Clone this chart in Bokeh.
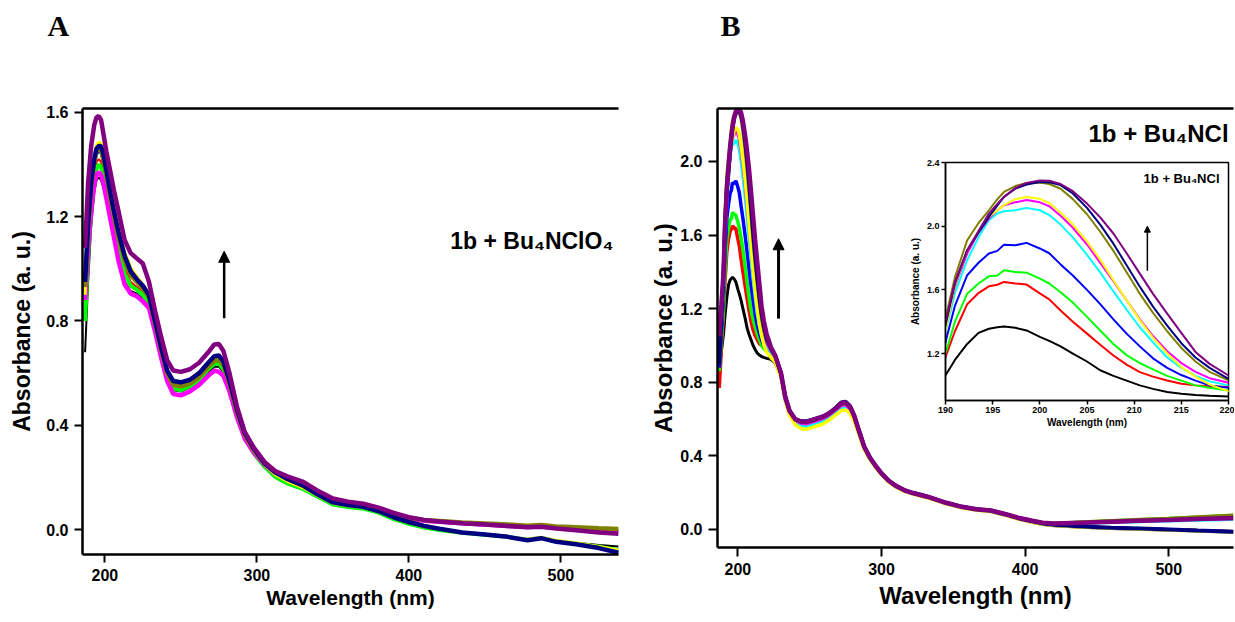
from bokeh.plotting import figure
from bokeh.layouts import row
from bokeh.models import (Range1d, FixedTicker, NumeralTickFormatter, Arrow,
                          NormalHead, Label, LinearAxis)
from bokeh.embed import file_html
from bokeh.resources import INLINE

FONT = "Liberation Sans"

series_names = ["black", "red", "green", "blue", "cyan", "magenta",
                "yellow", "olive", "navy", "purple"]
series_colors = ["#000000", "#FF0000", "#00FF00", "#0000FF", "#00FFFF",
                 "#FF00FF", "#FFFF00", "#808000", "#000080", "#800080"]

# ---------------- Panel A : 1b + Bu4NClO4 ----------------
wl_a = [187, 189, 191, 193, 194.5, 196, 197.5, 199, 201, 203,
        206, 209, 213, 217, 221, 225, 229, 233, 237, 241,
        245, 250, 256, 262, 268, 272, 275, 278, 282, 287,
        292, 298, 305, 312, 320, 330, 340, 350, 360, 370,
        380, 390, 400, 410, 420, 435, 450, 465, 478, 487,
        497, 510, 525, 538]

a_black = [0.68, 0.95, 1.16, 1.29, 1.34, 1.35, 1.34, 1.31, 1.26, 1.2,
           1.11, 1.03, 0.95, 0.915, 0.905, 0.885, 0.855, 0.77, 0.67, 0.58,
           0.535, 0.53, 0.545, 0.57, 0.605, 0.625, 0.625, 0.605, 0.54, 0.435,
           0.35, 0.29, 0.24, 0.2, 0.175, 0.155, 0.125, 0.095, 0.085, 0.08,
           0.065, 0.04, 0.022, 0.008, -0.002, -0.012, -0.02, -0.028, -0.037, -0.03,
           -0.042, -0.05, -0.058, -0.064]
a_red = [0.8, 1.1, 1.27, 1.37, 1.41, 1.42, 1.41, 1.38, 1.32, 1.26,
         1.17, 1.09, 1.0, 0.95, 0.93, 0.91, 0.875, 0.785, 0.685, 0.6,
         0.555, 0.55, 0.562, 0.588, 0.63, 0.655, 0.66, 0.64, 0.565, 0.45,
         0.36, 0.3, 0.25, 0.215, 0.195, 0.175, 0.14, 0.112, 0.102, 0.094,
         0.08, 0.06, 0.044, 0.035, 0.031, 0.026, 0.021, 0.016, 0.012, 0.014,
         0.008, 0.004, 0.0, -0.002]
a_green = [0.8, 1.05, 1.22, 1.33, 1.38, 1.4, 1.39, 1.36, 1.3, 1.24,
           1.15, 1.07, 0.98, 0.935, 0.92, 0.9, 0.865, 0.775, 0.675, 0.585,
           0.54, 0.535, 0.55, 0.575, 0.615, 0.635, 0.637, 0.615, 0.55, 0.44,
           0.352, 0.292, 0.242, 0.203, 0.178, 0.157, 0.127, 0.097, 0.087, 0.081,
           0.066, 0.041, 0.023, 0.009, -0.001, -0.011, -0.019, -0.027, -0.038, -0.031,
           -0.044, -0.053, -0.065, -0.078]
a_blue = [0.9, 1.14, 1.3, 1.4, 1.44, 1.45, 1.445, 1.41, 1.35, 1.29,
          1.2, 1.12, 1.03, 0.975, 0.95, 0.925, 0.89, 0.795, 0.695, 0.605,
          0.565, 0.56, 0.57, 0.595, 0.635, 0.66, 0.662, 0.64, 0.565, 0.45,
          0.36, 0.3, 0.25, 0.212, 0.187, 0.163, 0.132, 0.102, 0.093, 0.086,
          0.07, 0.046, 0.028, 0.013, 0.003, -0.009, -0.017, -0.026, -0.039, -0.032,
          -0.045, -0.054, -0.068, -0.084]
a_cyan = [0.92, 1.16, 1.33, 1.43, 1.47, 1.48, 1.475, 1.445, 1.385, 1.32,
          1.23, 1.15, 1.06, 1.0, 0.965, 0.935, 0.895, 0.8, 0.7, 0.61,
          0.57, 0.565, 0.575, 0.6, 0.638, 0.662, 0.664, 0.642, 0.566, 0.452,
          0.362, 0.302, 0.252, 0.213, 0.188, 0.164, 0.133, 0.103, 0.094, 0.087,
          0.071, 0.047, 0.029, 0.014, 0.004, -0.009, -0.017, -0.026, -0.039, -0.031,
          -0.045, -0.055, -0.069, -0.085]
a_magenta = [0.88, 1.08, 1.22, 1.32, 1.36, 1.37, 1.36, 1.33, 1.27, 1.21,
             1.12, 1.03, 0.94, 0.905, 0.895, 0.875, 0.85, 0.76, 0.66, 0.57,
             0.52, 0.515, 0.53, 0.555, 0.59, 0.61, 0.605, 0.59, 0.53, 0.43,
             0.35, 0.295, 0.25, 0.215, 0.195, 0.175, 0.14, 0.11, 0.1, 0.093,
             0.08, 0.06, 0.044, 0.035, 0.031, 0.025, 0.02, 0.015, 0.011, 0.013,
             0.007, 0.002, -0.003, -0.006]
a_yellow = [0.9, 1.15, 1.33, 1.43, 1.475, 1.485, 1.48, 1.45, 1.39, 1.325,
            1.235, 1.155, 1.065, 1.005, 0.97, 0.94, 0.9, 0.8, 0.7, 0.61,
            0.568, 0.563, 0.573, 0.598, 0.637, 0.66, 0.662, 0.64, 0.565, 0.45,
            0.36, 0.3, 0.25, 0.211, 0.186, 0.162, 0.131, 0.101, 0.092, 0.085,
            0.07, 0.046, 0.028, 0.013, 0.003, -0.01, -0.018, -0.027, -0.036, -0.028,
            -0.041, -0.05, -0.064, -0.078]
a_olive = [0.93, 1.15, 1.31, 1.41, 1.45, 1.46, 1.455, 1.42, 1.36, 1.29,
           1.2, 1.12, 1.03, 0.975, 0.95, 0.925, 0.89, 0.79, 0.69, 0.6,
           0.555, 0.55, 0.56, 0.585, 0.625, 0.648, 0.65, 0.63, 0.56, 0.45,
           0.365, 0.305, 0.255, 0.22, 0.2, 0.18, 0.145, 0.115, 0.105, 0.097,
           0.083, 0.063, 0.046, 0.037, 0.034, 0.028, 0.024, 0.02, 0.016, 0.018,
           0.013, 0.01, 0.006, 0.003]
a_navy = [0.95, 1.17, 1.33, 1.42, 1.46, 1.47, 1.47, 1.44, 1.38, 1.31,
          1.22, 1.14, 1.05, 0.99, 0.96, 0.935, 0.9, 0.8, 0.7, 0.61,
          0.57, 0.565, 0.575, 0.6, 0.64, 0.665, 0.668, 0.645, 0.57, 0.46,
          0.37, 0.31, 0.255, 0.22, 0.195, 0.17, 0.135, 0.105, 0.095, 0.088,
          0.072, 0.048, 0.03, 0.015, 0.004, -0.01, -0.018, -0.027, -0.04, -0.032,
          -0.046, -0.055, -0.07, -0.088]
a_purple = [1.08, 1.33, 1.47, 1.55, 1.58, 1.585, 1.57, 1.52, 1.45, 1.39,
            1.3, 1.22, 1.11, 1.06, 1.04, 1.02, 0.95, 0.84, 0.74, 0.65,
            0.61, 0.605, 0.615, 0.64, 0.68, 0.71, 0.712, 0.685, 0.6, 0.47,
            0.375, 0.315, 0.26, 0.225, 0.205, 0.185, 0.15, 0.12, 0.108, 0.1,
            0.085, 0.065, 0.048, 0.038, 0.032, 0.025, 0.02, 0.015, 0.01, 0.012,
            0.005, -0.002, -0.01, -0.015]

# ---------------- Panel B : 1b + Bu4NCl (also used by the inset) ----------------
wl_b = [187, 188.5,
        190, 191, 192.3, 193.5, 194.6, 195.5, 196.2, 197.4, 198.6, 200, 201, 202.2,
        203.5, 205, 206.4, 207.8, 209.2, 210.6, 212, 213.5, 215, 216.5, 218, 220,
        223, 226, 230, 233, 236, 240, 244, 248, 252, 256, 260, 264, 268, 272, 275,
        278, 281, 284, 288, 292, 296, 300, 305, 310, 316, 322, 332, 345, 356, 366,
        376, 386, 396, 405, 412, 420,
        440, 460, 480, 500, 520, 545]

b_black = [0.88, 0.97,
           1.063, 1.16, 1.26, 1.33, 1.356, 1.365, 1.37, 1.362, 1.345, 1.305, 1.28, 1.245,
           1.2, 1.15, 1.095, 1.06, 1.03, 1.0, 0.978, 0.958, 0.948, 0.94, 0.935, 0.93,
           0.925, 0.905, 0.83, 0.71, 0.635, 0.59, 0.576, 0.575, 0.585, 0.595, 0.606, 0.625, 0.652, 0.68, 0.685,
           0.664, 0.612, 0.54, 0.447, 0.388, 0.343, 0.303, 0.263, 0.235, 0.211, 0.196, 0.176, 0.143, 0.121, 0.108,
           0.101, 0.081, 0.058, 0.042, 0.031, 0.024,
           0.015, 0.009, 0.004, 0.0, -0.005, -0.011]
b_red = [0.77, 0.98,
         1.178, 1.34, 1.51, 1.58, 1.622, 1.632, 1.65, 1.64, 1.633, 1.578, 1.54, 1.47,
         1.4, 1.325, 1.255, 1.188, 1.13, 1.083, 1.055, 1.031, 1.01, 1.0, 0.995, 0.99,
         0.965, 0.93, 0.84, 0.715, 0.64, 0.593, 0.574, 0.572, 0.582, 0.592, 0.603, 0.622, 0.648, 0.672, 0.675,
         0.655, 0.606, 0.535, 0.444, 0.386, 0.342, 0.302, 0.262, 0.234, 0.21, 0.195, 0.175, 0.142, 0.12, 0.107,
         0.1, 0.08, 0.057, 0.041, 0.03, 0.023,
         0.014, 0.008, 0.003, -0.001, -0.006, -0.012]
b_green = [0.86, 1.03,
           1.2, 1.4, 1.576, 1.64, 1.685, 1.69, 1.723, 1.712, 1.708, 1.67, 1.64, 1.585,
           1.52, 1.43, 1.345, 1.26, 1.19, 1.14, 1.1, 1.06, 1.03, 1.0, 0.985, 0.968,
           0.95, 0.925, 0.84, 0.712, 0.637, 0.59, 0.57, 0.568, 0.578, 0.588, 0.6, 0.62, 0.645, 0.669, 0.672,
           0.652, 0.604, 0.534, 0.444, 0.386, 0.342, 0.302, 0.263, 0.236, 0.212, 0.197, 0.177, 0.144, 0.122, 0.109,
           0.102, 0.083, 0.061, 0.046, 0.037, 0.032,
           0.039, 0.046, 0.053, 0.059, 0.067, 0.076]
b_blue = [0.88, 1.07,
          1.272, 1.5, 1.692, 1.77, 1.828, 1.845, 1.884, 1.88, 1.895, 1.86, 1.83, 1.76,
          1.69, 1.6, 1.51, 1.415, 1.325, 1.245, 1.17, 1.11, 1.065, 1.03, 1.0, 0.985,
          0.96, 0.925, 0.835, 0.705, 0.628, 0.578, 0.558, 0.555, 0.565, 0.576, 0.588, 0.608, 0.636, 0.662, 0.665,
          0.646, 0.598, 0.53, 0.44, 0.383, 0.34, 0.3, 0.261, 0.233, 0.209, 0.194, 0.174, 0.141, 0.119, 0.106,
          0.099, 0.079, 0.056, 0.04, 0.029, 0.022,
          0.013, 0.007, 0.002, -0.002, -0.007, -0.014]
b_cyan = [0.95, 1.14,
          1.335, 1.58, 1.786, 1.93, 2.037, 2.08, 2.094, 2.1, 2.115, 2.1, 2.07, 2.01,
          1.93, 1.82, 1.71, 1.59, 1.475, 1.365, 1.27, 1.175, 1.11, 1.06, 1.025, 1.0,
          0.965, 0.93, 0.84, 0.708, 0.632, 0.582, 0.562, 0.56, 0.57, 0.58, 0.591, 0.61, 0.637, 0.662, 0.665,
          0.646, 0.599, 0.531, 0.441, 0.384, 0.341, 0.301, 0.262, 0.235, 0.211, 0.196, 0.176, 0.143, 0.121, 0.108,
          0.101, 0.082, 0.06, 0.045, 0.035, 0.03,
          0.034, 0.039, 0.043, 0.047, 0.051, 0.055]
b_magenta = [1.1, 1.22,
             1.356, 1.62, 1.828, 1.96, 2.048, 2.1, 2.132, 2.15, 2.165, 2.15, 2.125, 2.065,
             1.99, 1.885, 1.77, 1.655, 1.535, 1.415, 1.31, 1.215, 1.14, 1.085, 1.045, 1.016,
             0.975, 0.935, 0.845, 0.715, 0.64, 0.594, 0.577, 0.575, 0.585, 0.595, 0.606, 0.625, 0.65, 0.675, 0.678,
             0.657, 0.608, 0.537, 0.446, 0.387, 0.343, 0.303, 0.264, 0.236, 0.212, 0.197, 0.177, 0.144, 0.122, 0.109,
             0.102, 0.083, 0.061, 0.046, 0.036, 0.031,
             0.036, 0.041, 0.046, 0.051, 0.056, 0.06]
b_yellow = [0.92, 1.13,
            1.345, 1.63, 1.849, 1.97, 2.058, 2.1, 2.132, 2.17, 2.183, 2.172, 2.145, 2.085,
            2.01, 1.905, 1.79, 1.66, 1.535, 1.41, 1.3, 1.2, 1.115, 1.055, 1.005, 0.964,
            0.935, 0.91, 0.825, 0.698, 0.62, 0.568, 0.548, 0.545, 0.555, 0.565, 0.577, 0.597, 0.622, 0.646, 0.65,
            0.633, 0.588, 0.522, 0.435, 0.379, 0.336, 0.297, 0.258, 0.231, 0.207, 0.192, 0.172, 0.139, 0.118, 0.105,
            0.098, 0.078, 0.055, 0.039, 0.028, 0.021,
            0.012, 0.006, 0.001, -0.003, -0.008, -0.014]
b_olive = [0.93, 1.17,
           1.419, 1.68, 1.912, 2.02, 2.1, 2.17, 2.215, 2.252, 2.272, 2.275, 2.265, 2.235,
           2.17, 2.075, 1.965, 1.845, 1.71, 1.575, 1.455, 1.34, 1.235, 1.15, 1.085, 1.031,
           0.98, 0.94, 0.85, 0.72, 0.643, 0.597, 0.583, 0.582, 0.592, 0.602, 0.612, 0.63, 0.655, 0.682, 0.685,
           0.664, 0.614, 0.54, 0.448, 0.389, 0.344, 0.304, 0.265, 0.237, 0.213, 0.198, 0.178, 0.145, 0.123, 0.11,
           0.103, 0.084, 0.062, 0.047, 0.038, 0.033,
           0.04, 0.047, 0.054, 0.06, 0.068, 0.077]
b_navy = [0.9, 1.14,
          1.377, 1.64, 1.849, 1.96, 2.058, 2.13, 2.184, 2.235, 2.262, 2.278, 2.275, 2.258,
          2.205, 2.115, 2.01, 1.89, 1.755, 1.62, 1.495, 1.375, 1.265, 1.175, 1.11, 1.041,
          0.985, 0.945, 0.85, 0.72, 0.645, 0.6, 0.588, 0.588, 0.597, 0.607, 0.617, 0.635, 0.66, 0.69, 0.695,
          0.672, 0.62, 0.545, 0.45, 0.39, 0.345, 0.305, 0.265, 0.237, 0.213, 0.198, 0.178, 0.145, 0.123, 0.11,
          0.103, 0.083, 0.06, 0.044, 0.033, 0.026,
          0.016, 0.01, 0.005, 0.0, -0.006, -0.012]
b_purple = [1.05, 1.22,
            1.398, 1.65, 1.849, 1.97, 2.079, 2.14, 2.184, 2.24, 2.272, 2.287, 2.285, 2.265,
            2.22, 2.142, 2.055, 1.954, 1.83, 1.702, 1.575, 1.451, 1.33, 1.21, 1.135, 1.062,
            0.99, 0.945, 0.85, 0.72, 0.644, 0.598, 0.586, 0.585, 0.595, 0.605, 0.615, 0.633, 0.658, 0.686, 0.69,
            0.668, 0.617, 0.543, 0.449, 0.39, 0.345, 0.305, 0.265, 0.237, 0.213, 0.198, 0.178, 0.145, 0.123, 0.11,
            0.103, 0.084, 0.062, 0.047, 0.037, 0.032,
            0.037, 0.042, 0.047, 0.052, 0.057, 0.062]

a_series = [a_black, a_red, a_green, a_blue, a_cyan, a_magenta, a_yellow, a_olive, a_navy, a_purple]
b_series = [b_black, b_red, b_green, b_blue, b_cyan, b_magenta, b_yellow, b_olive, b_navy, b_purple]
a_widths = [2, 2, 4, 3, 3, 4.5, 3, 4.5, 4.5, 4.5]
b_widths = [3, 3.5, 3.5, 3.5, 3.5, 3.5, 3.5, 3.5, 4, 4.5]

x_ticks_main = [200, 300, 400, 500]
y_ticks_a = [0.0, 0.4, 0.8, 1.2, 1.6]
y_ticks_b = [0.0, 0.4, 0.8, 1.2, 1.6, 2.0]
x_ticks_inset = [190, 195, 200, 205, 210, 215, 220]
y_ticks_inset = [1.2, 1.6, 2.0, 2.4]

# plots in one row share top/bottom border sizes, so use the same values everywhere
TOP = 108
BOTTOM = 67


def style_axes(p, xt, yt, tick_size, xlabel_size, ylabel_size, tick_out, tick_w,
               axis_w, lab_standoff, axl_standoff_x, axl_standoff_y):
    p.xaxis.ticker = FixedTicker(ticks=xt)
    p.yaxis.ticker = FixedTicker(ticks=yt)
    p.yaxis.formatter = NumeralTickFormatter(format="0.0")
    p.xaxis.formatter = NumeralTickFormatter(format="0")
    for ax in (p.xaxis[0], p.yaxis[0]):
        ax.minor_tick_line_color = None
        ax.major_tick_in = 0
        ax.major_tick_out = tick_out
        ax.major_tick_line_width = tick_w
        ax.major_tick_line_color = "black"
        ax.axis_line_width = axis_w
        ax.axis_line_color = "black"
        ax.major_label_text_font = FONT
        ax.major_label_text_font_style = "bold"
        ax.major_label_text_font_size = tick_size
        ax.major_label_text_color = "black"
        ax.major_label_standoff = lab_standoff
        ax.axis_label_text_font = FONT
        ax.axis_label_text_font_style = "bold"
        ax.axis_label_text_color = "black"
    p.xaxis.axis_label_text_font_size = xlabel_size
    p.yaxis.axis_label_text_font_size = ylabel_size
    p.xaxis.axis_label_standoff = axl_standoff_x
    p.yaxis.axis_label_standoff = axl_standoff_y
    p.grid.visible = False
    p.background_fill_color = "white"
    p.border_fill_color = "white"


def top_line(p, w):
    top = LinearAxis(ticker=FixedTicker(ticks=[]), axis_line_width=w,
                     major_tick_line_color=None, minor_tick_line_color=None,
                     major_label_text_font_size="0px")
    p.add_layout(top, "above")


def letter_fig(text, left, frame_top):
    f = figure(frame_width=40, frame_height=44,
               x_range=Range1d(0, 1), y_range=Range1d(0, 1),
               min_border_left=0, min_border_right=0,
               min_border_top=TOP, min_border_bottom=BOTTOM,
               toolbar_location=None, output_backend="svg",
               x_axis_location=None, y_axis_location=None,
               styles={"position": "absolute", "left": f"{left}px",
                       "top": f"{frame_top - TOP}px"})
    f.outline_line_color = None
    f.grid.visible = False
    f.background_fill_alpha = 0
    f.border_fill_alpha = 0
    f.add_layout(Label(x=2, y=22, x_units="screen", y_units="screen", text=text,
                       text_font="Liberation Serif", text_font_style="bold",
                       text_font_size="30px", text_baseline="middle",
                       text_align="left", text_color="black"))
    return f


# ---- Panel A figure ----
pA = figure(frame_width=536, frame_height=446, x_range=Range1d(185.3, 537.9),
            y_range=Range1d(-0.0946, 1.614), output_backend="svg",
            toolbar_location=None, min_border_left=82, min_border_right=5,
            min_border_top=TOP, min_border_bottom=BOTTOM,
            x_axis_label="Wavelength (nm)", y_axis_label="Absorbance (a. u.)")
style_axes(pA, x_ticks_main, y_ticks_a, "16px", "21px", "23px", 8, 2, 2.5, 6, 2, 8)
pA.outline_line_color = None
top_line(pA, 2.5)
for ys, c, w in zip(a_series, series_colors, a_widths):
    pA.line(wl_a, ys, line_color=c, line_width=w)
pA.add_layout(Arrow(end=NormalHead(size=11, fill_color="black", line_color="black"),
                    x_start=278.5, y_start=0.81, x_end=278.5, y_end=1.067,
                    line_width=2.5, line_color="black"))
pA.add_layout(Label(x=427.2, y=1.108, text="1b + Bu\u2084NClO\u2084", text_font=FONT,
                    text_font_style="bold", text_font_size="23px",
                    text_baseline="middle", text_align="left", text_color="black"))

# ---- Panel B figure ----
pB = figure(frame_width=516, frame_height=439, x_range=Range1d(185.8, 545.1),
            y_range=Range1d(-0.098, 2.288), output_backend="svg",
            toolbar_location=None, min_border_left=94, min_border_right=1,
            min_border_top=TOP, min_border_bottom=BOTTOM,
            x_axis_label="Wavelength (nm)", y_axis_label="Absorbance (a. u.)")
style_axes(pB, x_ticks_main, y_ticks_b, "16px", "24px", "24px", 9, 2, 2.5, 6, 4, 0)
pB.outline_line_color = None
top_line(pB, 2.5)
for ys, c, w in zip(b_series, series_colors, b_widths):
    pB.line(wl_b, ys, line_color=c, line_width=w)
pB.add_layout(Arrow(end=NormalHead(size=11, fill_color="black", line_color="black"),
                    x_start=228.3, y_start=1.146, x_end=228.3, y_end=1.58,
                    line_width=3, line_color="black"))
pB.add_layout(Label(x=444.1, y=2.152, text="1b + Bu\u2084NCl", text_font=FONT,
                    text_font_style="bold", text_font_size="24px",
                    text_baseline="middle", text_align="left", text_color="black"))

# ---- Inset (zoom of panel B data) ----
INSET_FRAME_TOP = 162
pI = figure(frame_width=283, frame_height=238, x_range=Range1d(190, 220),
            y_range=Range1d(0.905, 2.4), output_backend="svg",
            toolbar_location=None, min_border_left=42, min_border_right=6,
            min_border_top=TOP, min_border_bottom=BOTTOM,
            x_axis_label="Wavelength (nm)", y_axis_label="Absorbance (a. u.)",
            styles={"position": "absolute", "left": "903px",
                    "top": f"{INSET_FRAME_TOP - TOP}px"})
style_axes(pI, x_ticks_inset, y_ticks_inset, "9px", "10px", "10px", 4, 1.5, 1.5, 2, 1, 3)
pI.border_fill_alpha = 0
pI.outline_line_color = "black"
pI.outline_line_width = 1.5
for ys, c in zip(b_series, series_colors):
    pI.line(wl_b, ys, line_color=c, line_width=2)
pI.add_layout(Arrow(end=NormalHead(size=6, fill_color="black", line_color="black"),
                    x_start=211.4, y_start=1.72, x_end=211.4, y_end=2.0,
                    line_width=1.5, line_color="black"))
pI.add_layout(Label(x=211.0, y=2.30, text="1b + Bu\u2084NCl", text_font=FONT,
                    text_font_style="bold", text_font_size="13px",
                    text_baseline="middle", text_align="left", text_color="black"))

tA = letter_fig("A", 45, 3)
tB = letter_fig("B", 718, 3)

layout = row(pA, pB, pI, tA, tB)
open("out.html", "w").write(file_html(layout, INLINE))
